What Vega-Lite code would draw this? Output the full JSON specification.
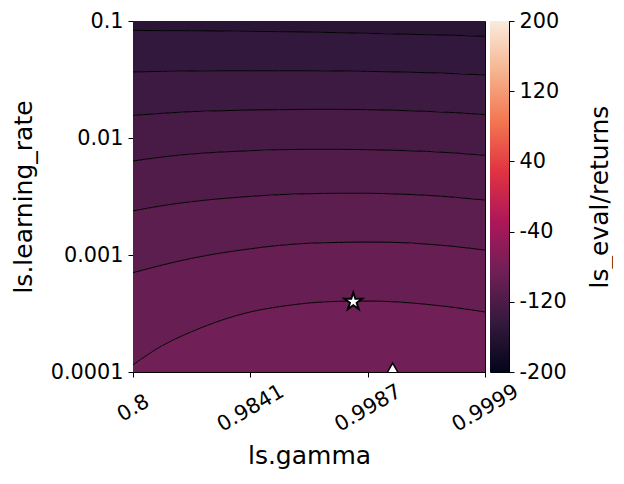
{
  "$schema": "https://vega.github.io/schema/vega-lite/v6.json",
  "padding": {"left": 10, "top": 9, "right": 0, "bottom": 0},
  "background": "white",
  "bounds": "flush",
  "spacing": 5,
  "config": {
    "font": "DejaVu Sans",
    "view": {"stroke": "black", "strokeWidth": 1},
    "axis": {
      "labelFont": "DejaVu Sans", "labelFontSize": 20.8, "labelColor": "black",
      "titleFont": "DejaVu Sans", "titleFontSize": 25, "titleFontWeight": "normal", "titleColor": "black",
      "tickColor": "black", "tickSize": 5, "tickWidth": 1, "domainColor": "black", "domainWidth": 1,
      "grid": false, "labelFlush": false, "labelOverlap": false
    }
  },
  "datasets": {
    "contours": [
      {"gamma_t": 0.699, "l1": 0.0832, "l2": 0.0367, "l3": 0.0156, "l4": 0.00636, "l5": 0.00238, "l6": 0.000706, "l7": 0.000115},
      {"gamma_t": 0.974, "l1": 0.0827, "l2": 0.0371, "l3": 0.01625, "l4": 0.00688, "l5": 0.00264, "l6": 0.000821, "l7": 0.000168},
      {"gamma_t": 1.249, "l1": 0.0827, "l2": 0.0374, "l3": 0.0168, "l4": 0.0073, "l5": 0.00286, "l6": 0.000937, "l7": 0.000221},
      {"gamma_t": 1.524, "l1": 0.0821, "l2": 0.0376, "l3": 0.0171, "l4": 0.00759, "l5": 0.00303, "l6": 0.00104, "l7": 0.000276},
      {"gamma_t": 1.799, "l1": 0.0816, "l2": 0.0376, "l3": 0.01735, "l4": 0.00779, "l5": 0.00317, "l6": 0.00113, "l7": 0.000326},
      {"gamma_t": 2.074, "l1": 0.0811, "l2": 0.0376, "l3": 0.01747, "l4": 0.00795, "l5": 0.00328, "l6": 0.00121, "l7": 0.000362},
      {"gamma_t": 2.349, "l1": 0.0805, "l2": 0.0376, "l3": 0.01758, "l4": 0.0080, "l5": 0.00334, "l6": 0.00126, "l7": 0.000389},
      {"gamma_t": 2.625, "l1": 0.0795, "l2": 0.0374, "l3": 0.01758, "l4": 0.0080, "l5": 0.00337, "l6": 0.00128, "l7": 0.000402},
      {"gamma_t": 2.900, "l1": 0.0785, "l2": 0.0371, "l3": 0.01747, "l4": 0.00795, "l5": 0.00337, "l6": 0.00129, "l7": 0.000404},
      {"gamma_t": 3.175, "l1": 0.0774, "l2": 0.0367, "l3": 0.01724, "l4": 0.00784, "l5": 0.00332, "l6": 0.00128, "l7": 0.000397},
      {"gamma_t": 3.450, "l1": 0.0764, "l2": 0.0362, "l3": 0.0169, "l4": 0.00769, "l5": 0.00324, "l6": 0.00124, "l7": 0.000379},
      {"gamma_t": 3.725, "l1": 0.0754, "l2": 0.0355, "l3": 0.01646, "l4": 0.00744, "l5": 0.00311, "l6": 0.00118, "l7": 0.000355},
      {"gamma_t": 4.0, "l1": 0.0739, "l2": 0.0346, "l3": 0.01583, "l4": 0.00711, "l5": 0.00295, "l6": 0.0011, "l7": 0.000326}
    ],
    "markers": [
      {"gamma_t": 2.765, "lr": 0.000399, "kind": "best"},
      {"gamma_t": 3.134, "lr": 0.0001, "kind": "edge"}
    ],
    "cbar": [{"lo": -200, "hi": 200}]
  },
  "hconcat": [
    {
      "width": 352,
      "height": 351,
      "encoding": {
        "x": {"field": "gamma_t", "type": "quantitative",
          "scale": {"domain": [0.69897, 4], "nice": false, "zero": false},
          "axis": {"title": "ls.gamma", "values": [0.69897, 1.79934, 2.89967, 4],
            "labelExpr": "format(1 - pow(10, -datum.value), '.4~f')",
            "labelAngle": -30, "labelAlign": "center", "labelBaseline": "middle", "labelPadding": 31,
            "titleX": 176, "titleY": 91, "titleAlign": "center", "titleBaseline": "alphabetic"}}
      },
      "layer": [
        {"data": {"name": "contours"}, "mark": {"type": "area", "interpolate": "monotone", "clip": true},
         "encoding": {"y": {"field": "l1", "type": "quantitative",
            "scale": {"type": "log", "domain": [0.0001, 0.1], "nice": false},
            "axis": {"title": "ls.learning_rate", "values": [0.0001, 0.001, 0.01, 0.1], "format": ".4~f",
              "labelPadding": 5, "titleX": -102, "titleY": 175.5, "titleAlign": "center", "titleBaseline": "alphabetic", "titleAngle": 270}},
           "y2": {"datum": 0.1},
           "color": {"datum": -155, "type": "quantitative", "legend": null,
             "scale": {"domain": [-200, -142.86, -85.71, -28.57, 28.57, 85.71, 142.86, 200], "range": ["#03051a", "#35193e", "#701f57", "#ad1759", "#e13342", "#f37651", "#f6b48f", "#faebdd"], "interpolate": "rgb"}}}},
        {"data": {"name": "contours"}, "mark": {"type": "area", "interpolate": "monotone", "clip": true},
         "encoding": {"y": {"field": "l2", "type": "quantitative"}, "y2": {"field": "l1"},
           "color": {"datum": -145, "type": "quantitative", "legend": null}}},
        {"data": {"name": "contours"}, "mark": {"type": "area", "interpolate": "monotone", "clip": true},
         "encoding": {"y": {"field": "l3", "type": "quantitative"}, "y2": {"field": "l2"},
           "color": {"datum": -135, "type": "quantitative", "legend": null}}},
        {"data": {"name": "contours"}, "mark": {"type": "area", "interpolate": "monotone", "clip": true},
         "encoding": {"y": {"field": "l4", "type": "quantitative"}, "y2": {"field": "l3"},
           "color": {"datum": -125, "type": "quantitative", "legend": null}}},
        {"data": {"name": "contours"}, "mark": {"type": "area", "interpolate": "monotone", "clip": true},
         "encoding": {"y": {"field": "l5", "type": "quantitative"}, "y2": {"field": "l4"},
           "color": {"datum": -115, "type": "quantitative", "legend": null}}},
        {"data": {"name": "contours"}, "mark": {"type": "area", "interpolate": "monotone", "clip": true},
         "encoding": {"y": {"field": "l6", "type": "quantitative"}, "y2": {"field": "l5"},
           "color": {"datum": -105, "type": "quantitative", "legend": null}}},
        {"data": {"name": "contours"}, "mark": {"type": "area", "interpolate": "monotone", "clip": true},
         "encoding": {"y": {"field": "l7", "type": "quantitative"}, "y2": {"field": "l6"},
           "color": {"datum": -95, "type": "quantitative", "legend": null}}},
        {"data": {"name": "contours"}, "mark": {"type": "area", "interpolate": "monotone", "clip": true},
         "encoding": {"y": {"field": "l7", "type": "quantitative"}, "y2": {"datum": 0.0001},
           "color": {"datum": -85, "type": "quantitative", "legend": null}}},
        {"data": {"name": "contours"},
         "transform": [{"fold": ["l1", "l2", "l3", "l4", "l5", "l6", "l7"], "as": ["level", "lr"]}],
         "mark": {"type": "line", "interpolate": "monotone", "color": "black", "strokeWidth": 1, "clip": true},
         "encoding": {"y": {"field": "lr", "type": "quantitative"}, "detail": {"field": "level"}}},
        {"data": {"name": "markers"}, "transform": [{"filter": "datum.kind === 'best'"}],
         "mark": {"type": "point", "shape": "M0,-1L0.2245,-0.309L0.951,-0.309L0.363,0.118L0.588,0.809L0,0.382L-0.588,0.809L-0.363,0.118L-0.951,-0.309L-0.2245,-0.309Z", "size": 340, "filled": true, "fill": "white", "stroke": "black", "strokeWidth": 2, "opacity": 1},
         "encoding": {"y": {"field": "lr", "type": "quantitative"}}},
        {"data": {"name": "markers"}, "transform": [{"filter": "datum.kind === 'edge'"}],
         "mark": {"type": "point", "shape": "triangle-up", "size": 420, "filled": true, "fill": "white", "stroke": "black", "strokeWidth": 1.5, "opacity": 1, "clip": true},
         "encoding": {"y": {"field": "lr", "type": "quantitative"}}}
      ]
    },
    {
      "width": 19,
      "height": 351,
      "data": {"name": "cbar"},
      "mark": {"type": "rect",
        "fill": {"gradient": "linear", "x1": 0, "y1": 1, "x2": 0, "y2": 0,
          "stops": [
            {"offset": 0, "color": "#03051a"},
            {"offset": 0.1429, "color": "#35193e"},
            {"offset": 0.2857, "color": "#701f57"},
            {"offset": 0.4286, "color": "#ad1759"},
            {"offset": 0.5714, "color": "#e13342"},
            {"offset": 0.7143, "color": "#f37651"},
            {"offset": 0.8571, "color": "#f6b48f"},
            {"offset": 1, "color": "#faebdd"}
          ]}},
      "encoding": {
        "x": {"datum": 0, "type": "quantitative", "scale": {"domain": [0, 1], "nice": false}, "axis": null},
        "x2": {"datum": 1},
        "y": {"field": "lo", "type": "quantitative", "scale": {"domain": [-200, 200], "nice": false, "zero": false},
          "axis": {"orient": "right", "title": "ls_eval/returns", "values": [-200, -120, -40, 40, 120, 200],
            "labelExpr": "datum.value < 0 ? '-' + abs(datum.value) : '' + datum.value",
            "labelPadding": 5, "labelBaseline": "middle", "titleAngle": 270, "titleX": 98, "titleY": 175.5,
            "titleAlign": "center", "titleBaseline": "alphabetic"}},
        "y2": {"field": "hi"}
      }
    }
  ]
}
